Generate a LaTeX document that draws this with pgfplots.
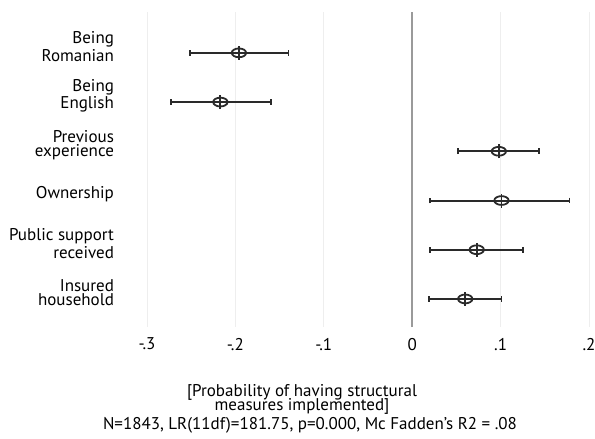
\documentclass[border=0pt]{standalone}
\usepackage{fontspec}
\setmainfont{PT Sans}
\usepackage{pgfplots}
\pgfplotsset{compat=1.18}
\definecolor{zeroline}{HTML}{9A9A9A}
\definecolor{gridc}{HTML}{EEEEEE}
\definecolor{barc}{HTML}{2A2A2A}

% ellipse with a vertical stroke (Stata "Oh" with bar look)
\pgfdeclareplotmark{ovbar}{%
  \pgfpathellipse{\pgfpointorigin}{\pgfpoint{3.6pt}{0pt}}{\pgfpoint{0pt}{2.2pt}}%
  \pgfusepathqstroke
  \pgfpathmoveto{\pgfpoint{0pt}{-3.5pt}}%
  \pgfpathlineto{\pgfpoint{0pt}{3.5pt}}%
  \pgfusepathqstroke
}

\newcommand\lblfont{\fontsize{8.5}{7}\selectfont}

\begin{document}
\begin{tikzpicture}
\begin{axis}[
    scale only axis,
    width=221pt, height=157.5pt,
    xmin=-0.3, xmax=0.2,
    ymin=0.43, ymax=6.83,
    axis line style={draw=none},
    major tick length=0pt,
    xtick={-0.3,-0.2,-0.1,0,0.1,0.2},
    xticklabels={-.3,-.2,-.1,0,.1,.2},
    ytick={1,2,3,4,5,6},
    yticklabels={{Insured\\[0pt]household}, {Public support\\[0pt]received}, {\raisebox{1pt}{Ownership}}, {Previous\\[0pt]experience}, {Being\\[0pt]English}, {Being\\[0pt]Romanian}},
    yticklabel style={align=right, xshift=-13pt, yshift=3.1pt},
    xticklabel style={yshift=-2pt},
    tick label style={font=\lblfont},
    xmajorgrids,
    major grid style={gridc, line width=0.5pt},
    extra x ticks={0},
    extra x tick labels={},
    extra x tick style={major grid style={zeroline, line width=0.8pt}},
    clip=false,
]
\coordinate (sw) at (rel axis cs:0,0);
\coordinate (ne) at (rel axis cs:1,1);
\addplot[
    barc, line width=0.9pt,
    only marks, mark=ovbar,
    error bars/.cd,
      x dir=both, x explicit,
      error bar style={barc, line width=1pt},
      error mark=|,
      error mark options={barc, line width=0.9pt, mark size=1.4pt, rotate=0},
] table[x=x, y=y, x error minus=em, x error plus=ep] {
y  x       em     ep
6  -0.196  0.055  0.056
5  -0.217  0.056  0.057
4   0.098  0.046  0.045
3   0.101  0.081  0.077
2   0.073  0.053  0.052
1   0.060  0.041  0.041
};
\end{axis}
\node[align=center, font=\lblfont] at ([shift={(77.5pt,-36.3pt)}]sw)
  {[Probability of having structural\\[-2pt]measures implemented]};
\node[font=\lblfont] at ([shift={(81.5pt,-49pt)}]sw)
  {N=1843, LR(11df)=181.75, p=0.000, Mc Fadden’s R2 = .08};
\pgfresetboundingbox
\path[use as bounding box] ([shift={(-73.5pt,-55.5pt)}]sw) rectangle ([shift={(3pt,6pt)}]ne);
\end{tikzpicture}
\end{document}
